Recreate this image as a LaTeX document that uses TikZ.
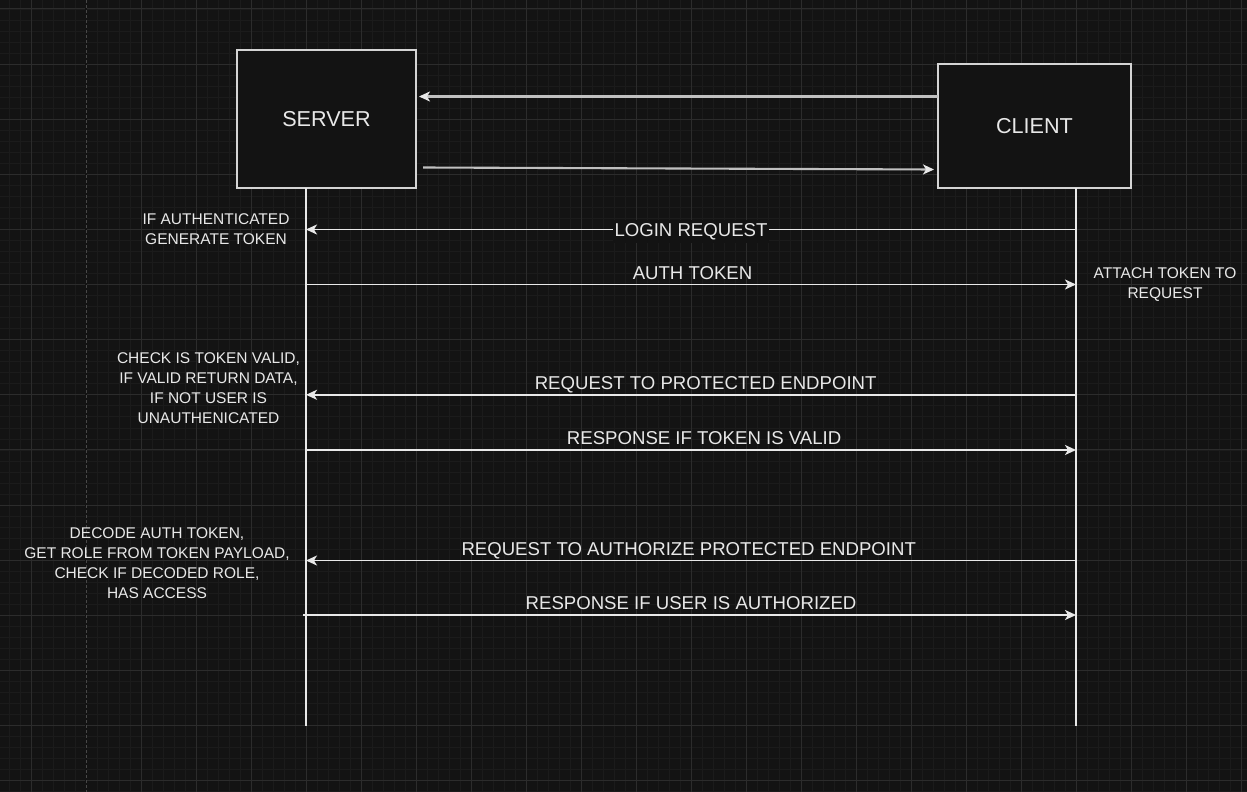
\documentclass[tikz,border=0pt]{standalone}
\usepackage{fontspec}
\setmainfont{Liberation Sans}
\usetikzlibrary{arrows.meta}
\definecolor{bg}{HTML}{131313}
\definecolor{gminor}{HTML}{1B1B1B}
\definecolor{gmajor}{HTML}{2C2C2C}
\definecolor{gdash}{HTML}{484848}
\definecolor{ink}{HTML}{E8E8E8}
\definecolor{boxline}{HTML}{D4D4D4}
\definecolor{toparrow}{HTML}{C0C0C0}
\begin{document}
\begin{tikzpicture}[x=1pt,y=-1pt,
  actor/.style={draw=boxline, line width=1.5pt, fill=bg, inner sep=0pt, text=ink,
    font=\fontsize{21.6}{26}\selectfont},
  lifeline/.style={draw=ink, line width=1.7pt},
  msg/.style={draw=ink, line width=1.7pt, -{Stealth[length=11pt,width=10pt,inset=3pt]}},
  boxarrow/.style={draw=toparrow, line width=2.1pt, -{Stealth[length=11pt,width=10pt,inset=3pt,color=ink]}},
  lbl/.style={text=ink, font=\fontsize{18.6}{22}\selectfont, inner sep=0pt, anchor=base, yshift=5.4pt},
  inlbl/.style={text=ink, font=\fontsize{18.6}{22}\selectfont, fill=bg, inner xsep=2pt, inner ysep=3pt, anchor=base, yshift=-6.7pt},
  note/.style={text=ink, font=\fontsize{15.5}{20}\selectfont, align=center, inner sep=0pt}
]
% background and grid
\fill[bg] (0,0) rectangle (1247,792);
\useasboundingbox (0,0) rectangle (1247,792);
\foreach \i in {0,...,113} \draw[gminor, line width=0.8pt] ({9+11*\i},0) -- ({9+11*\i},792);
\foreach \j in {0,...,71} \draw[gminor, line width=0.8pt] (0,{9+11.024*\j}) -- (1247,{9+11.024*\j});
\foreach \i in {0,...,22} \draw[gmajor, line width=1pt] ({31+55*\i},0) -- ({31+55*\i},792);
\foreach \j in {0,...,14} \draw[gmajor, line width=1pt] (0,{9+55.12*\j}) -- (1247,{9+55.12*\j});
\fill[bg] (85,0) rectangle (87,792);
\draw[gdash, line width=1pt, dash pattern=on 3pt off 2pt] (86,0) -- (86,792);

% actors
\node[actor, minimum width=179pt, minimum height=138pt] (server) at (326.5,119) {SERVER};
\node[actor, minimum width=193pt, minimum height=124pt] (client) at (1034.5,126) {CLIENT};

% lifeline coordinates
\coordinate (sTop) at (306,188);
\coordinate (sBot) at (306,726);
\coordinate (cTop) at (1076,188);
\coordinate (cBot) at (1076,726);
\draw[lifeline] (sTop) -- (sBot);
\draw[lifeline] (cTop) -- (cBot);

% arrows between boxes
\coordinate (tA) at (938,96.5);
\coordinate (tB) at (419,96.5);
\coordinate (bA) at (423,167.5);
\coordinate (bB) at (934,169.5);
\draw[boxarrow] (tA) -- (tB);
\draw[boxarrow] (bA) -- (bB);

% message coordinates
\coordinate (s1) at (306,229.5);  \coordinate (c1) at (1076,229.5);
\coordinate (s2) at (306,284.5);  \coordinate (c2) at (1076,284.5);
\coordinate (s3) at (306,394.8);  \coordinate (c3) at (1076,394.8);
\coordinate (s4) at (306,450);    \coordinate (c4) at (1076,450);
\coordinate (s5) at (306,560.5);  \coordinate (c5) at (1076,560.5);
\coordinate (s6) at (303,615);    \coordinate (c6) at (1076,615);

\draw[msg] (c1) -- node[inlbl, pos=0.50] (m1) {LOGIN REQUEST} (s1);
\draw[msg] (s2) -- node[lbl, pos=0.502] (m2) {AUTH TOKEN} (c2);
\draw[msg] (c3) -- node[lbl, pos=0.481] (m3) {REQUEST TO PROTECTED ENDPOINT} (s3);
\draw[msg] (s4) -- node[lbl, pos=0.517] (m4) {RESPONSE IF TOKEN IS VALID} (c4);
\draw[msg] (c5) -- node[lbl, pos=0.503] (m5) {REQUEST TO AUTHORIZE PROTECTED ENDPOINT} (s5);
\draw[msg] (s6) -- node[lbl, pos=0.502] (m6) {RESPONSE IF USER IS AUTHORIZED} (c6);

% notes
\node[note] (n1) at (216,229.5) {IF AUTHENTICATED\\GENERATE TOKEN};
\node[note] (n2) at (1165,284.5) {ATTACH TOKEN TO\\REQUEST};
\node[note] (n3) at (208.5,388.5) {CHECK IS TOKEN VALID,\\IF VALID RETURN DATA,\\IF NOT USER IS\\UNAUTHENICATED};
\node[note] (n4) at (157,563.5) {DECODE AUTH TOKEN,\\GET ROLE FROM TOKEN PAYLOAD,\\CHECK IF DECODED ROLE,\\HAS ACCESS};
\end{tikzpicture}
\end{document}
